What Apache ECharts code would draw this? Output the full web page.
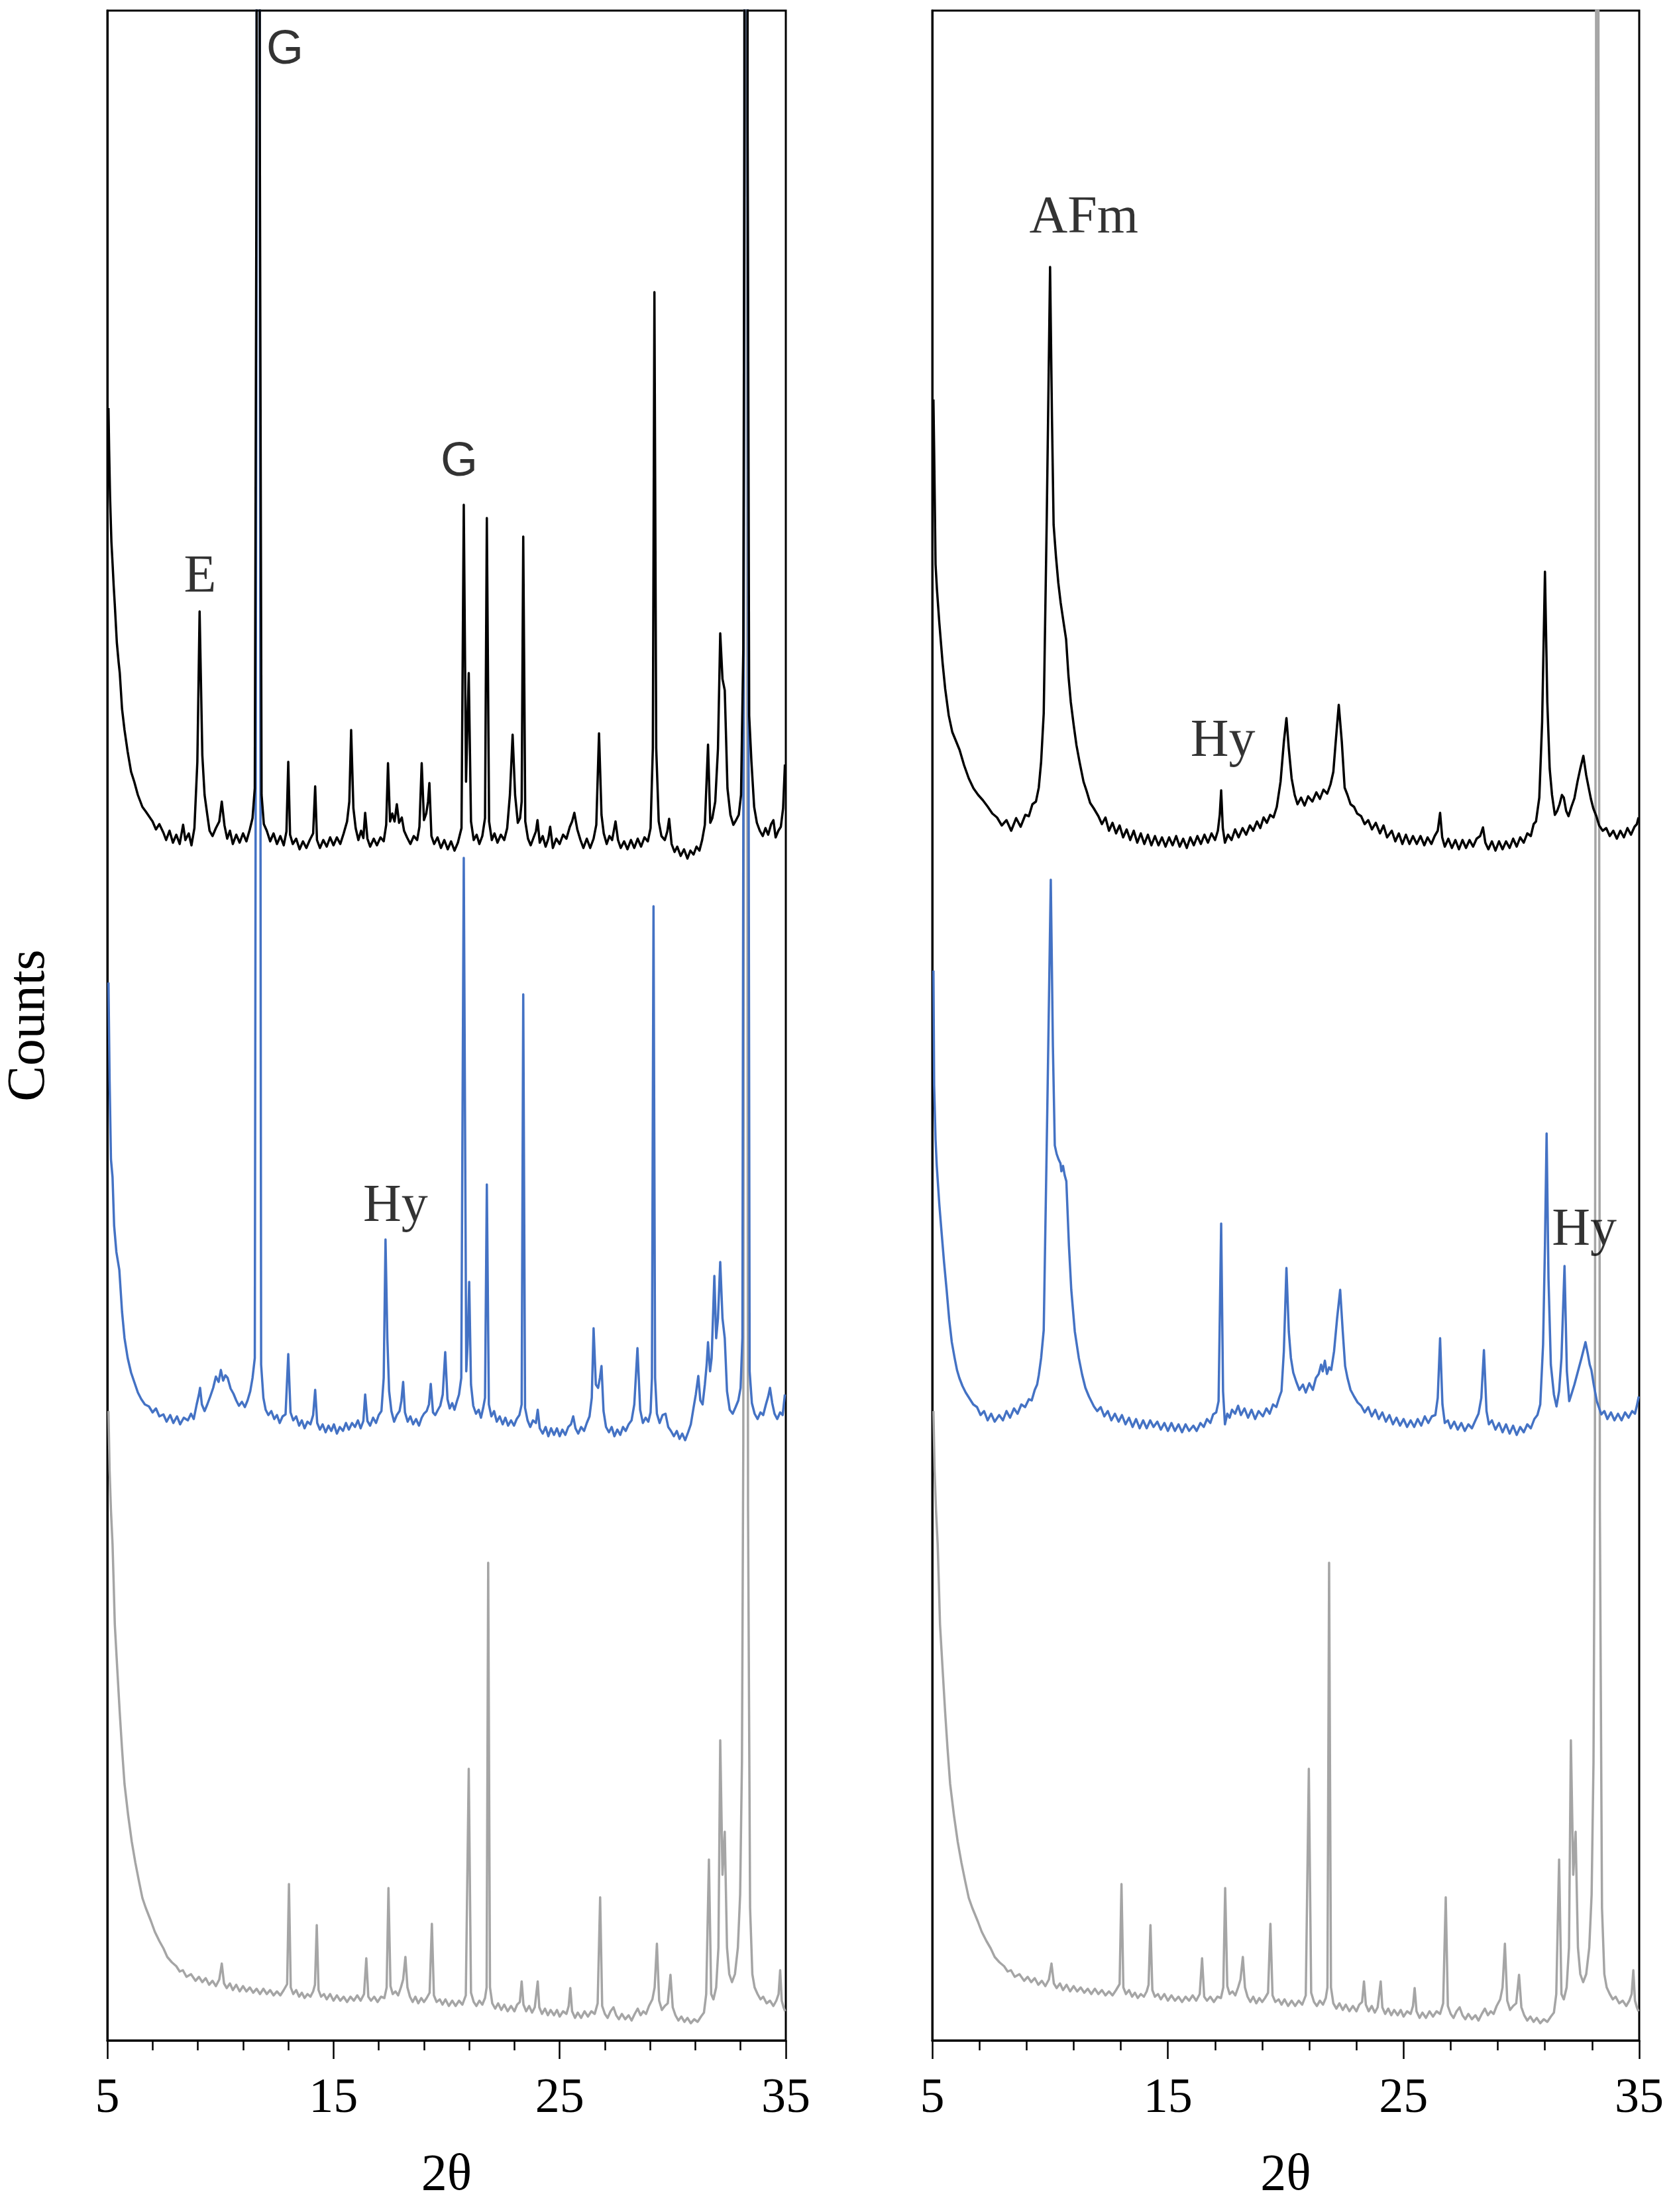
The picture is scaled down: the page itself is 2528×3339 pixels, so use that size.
<!DOCTYPE html>
<html>
<head>
<meta charset="utf-8">
<script src="https://cdn.jsdelivr.net/npm/echarts@6/dist/echarts.min.js"></script>
<style>
html,body{margin:0;padding:0;background:#fff;}
#chart{width:2528px;height:3339px;}
</style>
</head>
<body>
<div id="chart"></div>
<script>
// ---- Data (2θ, counts with vertical offsets as plotted) ----
const grayPattern = [
[5.05,950],[5.1,860],[5.16,800],[5.23,749],[5.28,690],[5.33,628],[5.44,560],[5.55,494],[5.65,440],[5.76,387],[5.92,340],[6.08,300],[6.24,268],[6.4,240],[6.55,215],[6.7,200],[6.93,180],[7.1,164],[7.3,150],[7.48,139],[7.65,126],[7.85,118],[8.05,112],[8.2,104],[8.34,106],[8.5,96],[8.7,100],[8.9,90],[9.05,96],[9.2,88],[9.35,94],[9.5,84],[9.65,90],[9.8,82],[9.95,92],[10.06,116],[10.16,86],[10.28,79],[10.42,86],[10.55,76],[10.7,84],[10.85,74],[11.0,82],[11.15,74],[11.3,80],[11.45,72],[11.6,78],[11.75,70],[11.9,78],[12.05,70],[12.2,76],[12.35,68],[12.5,74],[12.65,68],[12.8,76],[12.95,85],[13.03,236],[13.11,80],[13.22,70],[13.35,76],[13.48,66],[13.6,72],[13.72,64],[13.85,70],[13.98,66],[14.1,74],[14.18,84],[14.26,174],[14.34,76],[14.45,66],[14.58,70],[14.7,62],[14.85,70],[15.0,60],[15.15,68],[15.3,60],[15.45,66],[15.6,58],[15.75,66],[15.9,60],[16.05,68],[16.2,60],[16.35,70],[16.45,124],[16.54,66],[16.66,60],[16.8,66],[16.95,58],[17.1,66],[17.25,64],[17.35,80],[17.43,230],[17.52,82],[17.62,70],[17.74,74],[17.86,68],[17.98,80],[18.08,92],[18.18,126],[18.27,80],[18.38,66],[18.5,58],[18.62,66],[18.75,56],[18.88,64],[19.0,58],[19.12,64],[19.25,72],[19.35,176],[19.44,68],[19.56,58],[19.7,62],[19.82,54],[19.95,62],[20.1,52],[20.25,60],[20.4,52],[20.55,60],[20.7,54],[20.85,68],[20.98,410],[21.08,72],[21.2,58],[21.32,52],[21.45,60],[21.58,54],[21.7,64],[21.77,80],[21.84,721],[21.92,80],[22.02,56],[22.15,48],[22.28,56],[22.42,46],[22.55,54],[22.7,44],[22.85,52],[23.0,44],[23.12,54],[23.24,58],[23.32,89],[23.4,54],[23.52,44],[23.65,52],[23.78,42],[23.9,50],[24.03,89],[24.1,50],[24.22,40],[24.35,48],[24.48,38],[24.6,46],[24.75,38],[24.88,46],[25.0,36],[25.15,44],[25.3,40],[25.4,52],[25.47,79],[25.55,44],[25.68,34],[25.8,42],[25.95,34],[26.1,44],[26.25,36],[26.4,44],[26.55,40],[26.68,56],[26.79,216],[26.88,52],[27.0,40],[27.12,34],[27.25,44],[27.38,50],[27.5,38],[27.62,32],[27.75,40],[27.9,32],[28.05,38],[28.18,30],[28.32,40],[28.45,48],[28.58,38],[28.7,44],[28.82,40],[28.95,52],[29.1,62],[29.2,80],[29.3,146],[29.4,60],[29.52,46],[29.65,52],[29.78,56],[29.9,99],[30.0,50],[30.12,38],[30.25,30],[30.38,36],[30.52,28],[30.65,34],[30.8,26],[30.95,32],[31.1,28],[31.25,36],[31.38,42],[31.48,70],[31.6,273],[31.7,70],[31.8,62],[31.92,80],[32.02,140],[32.1,453],[32.2,250],[32.3,315],[32.4,140],[32.5,100],[32.62,88],[32.75,100],[32.88,140],[32.98,220],[33.06,420],[33.12,900],[33.17,3000],[33.22,12000],[33.27,3000],[33.33,800],[33.42,200],[33.52,100],[33.62,80],[33.75,70],[33.88,62],[34.0,66],[34.15,56],[34.3,60],[34.45,52],[34.58,60],[34.68,70],[34.75,106],[34.82,60],[34.9,50],[34.97,44]
];

const blackLeft = [
[5.05,2464],[5.08,2400],[5.12,2330],[5.18,2262],[5.23,2230],[5.28,2196],[5.33,2167],[5.42,2110],[5.5,2080],[5.55,2064],[5.65,2010],[5.76,1978],[5.9,1945],[6.05,1915],[6.19,1900],[6.35,1880],[6.55,1862],[6.7,1855],[6.84,1848],[7.0,1840],[7.15,1828],[7.3,1836],[7.48,1823],[7.6,1812],[7.75,1826],[7.9,1808],[8.05,1820],[8.2,1806],[8.35,1835],[8.45,1812],[8.6,1822],[8.72,1804],[8.85,1830],[8.98,1930],[9.08,2157],[9.2,1940],[9.3,1880],[9.42,1850],[9.52,1826],[9.65,1818],[9.8,1830],[9.95,1840],[10.06,1870],[10.18,1834],[10.3,1814],[10.42,1826],[10.55,1806],[10.7,1820],[10.85,1808],[11.0,1822],[11.15,1810],[11.3,1828],[11.42,1845],[11.52,1890],[11.6,2900],[11.67,9000],[11.74,2900],[11.82,1880],[11.92,1836],[12.05,1826],[12.2,1810],[12.35,1822],[12.5,1806],[12.65,1818],[12.8,1804],[12.92,1825],[13.0,1930],[13.08,1820],[13.2,1806],[13.35,1814],[13.5,1798],[13.65,1810],[13.8,1800],[13.95,1812],[14.1,1822],[14.19,1893],[14.27,1812],[14.4,1800],[14.55,1812],[14.7,1802],[14.85,1816],[15.0,1804],[15.15,1816],[15.3,1806],[15.45,1822],[15.6,1840],[15.7,1870],[15.78,1978],[15.88,1860],[15.98,1830],[16.1,1812],[16.22,1826],[16.32,1815],[16.4,1853],[16.5,1814],[16.62,1802],[16.78,1814],[16.92,1804],[17.08,1816],[17.22,1810],[17.33,1835],[17.41,1928],[17.5,1840],[17.6,1852],[17.7,1840],[17.8,1866],[17.9,1838],[18.02,1846],[18.12,1826],[18.25,1816],[18.4,1806],[18.55,1818],[18.7,1812],[18.8,1832],[18.9,1928],[19.0,1842],[19.1,1852],[19.18,1870],[19.24,1898],[19.33,1818],[19.45,1806],[19.6,1816],[19.75,1800],[19.9,1812],[20.05,1798],[20.2,1810],[20.35,1796],[20.5,1808],[20.66,1830],[20.76,2318],[20.86,1900],[20.98,2064],[21.08,1840],[21.2,1812],[21.33,1820],[21.45,1806],[21.58,1818],[21.7,1845],[21.78,2298],[21.88,1840],[22.0,1812],[22.12,1822],[22.25,1808],[22.4,1820],[22.55,1812],[22.68,1830],[22.8,1880],[22.92,1971],[23.03,1880],[23.15,1838],[23.25,1845],[23.32,1870],[23.39,2270],[23.48,1840],[23.6,1814],[23.72,1804],[23.85,1816],[23.95,1825],[24.02,1842],[24.12,1808],[24.25,1818],[24.38,1802],[24.5,1814],[24.58,1832],[24.7,1800],[24.85,1814],[25.0,1806],[25.15,1820],[25.3,1814],[25.45,1832],[25.55,1840],[25.65,1853],[25.78,1828],[25.92,1812],[26.05,1800],[26.2,1814],[26.35,1800],[26.5,1814],[26.62,1835],[26.74,1973],[26.85,1850],[26.95,1822],[27.08,1806],[27.2,1818],[27.32,1812],[27.47,1840],[27.58,1812],[27.7,1800],[27.85,1810],[28.0,1798],[28.15,1812],[28.3,1800],[28.45,1814],[28.6,1802],[28.75,1816],[28.9,1810],[29.02,1830],[29.12,1950],[29.19,2639],[29.27,1950],[29.38,1840],[29.5,1818],[29.65,1812],[29.76,1825],[29.84,1844],[29.95,1806],[30.08,1794],[30.2,1802],[30.35,1788],[30.5,1798],[30.65,1784],[30.78,1796],[30.92,1790],[31.05,1802],[31.18,1796],[31.3,1812],[31.42,1835],[31.56,1956],[31.66,1838],[31.75,1845],[31.88,1870],[32.0,1950],[32.1,2124],[32.2,2055],[32.3,2038],[32.42,1890],[32.55,1850],[32.68,1835],[32.8,1842],[32.92,1850],[33.02,1880],[33.12,2100],[33.17,2900],[33.24,9000],[33.31,2900],[33.38,2000],[33.48,1930],[33.6,1862],[33.72,1838],[33.85,1826],[33.98,1818],[34.1,1830],[34.22,1820],[34.35,1836],[34.45,1842],[34.55,1816],[34.67,1826],[34.78,1832],[34.88,1860],[34.96,1926]
];

const blueLeft = [
[5.05,1597],[5.1,1450],[5.16,1330],[5.23,1303],[5.3,1230],[5.4,1190],[5.53,1163],[5.65,1100],[5.76,1060],[5.9,1030],[6.05,1008],[6.19,994],[6.35,978],[6.5,968],[6.66,960],[6.84,957],[7.0,948],[7.15,954],[7.3,942],[7.48,945],[7.62,934],[7.78,944],[7.92,932],[8.08,942],[8.22,930],[8.38,940],[8.56,936],[8.7,946],[8.82,938],[8.95,960],[9.05,975],[9.1,985],[9.18,960],[9.3,950],[9.42,960],[9.55,972],[9.68,985],[9.8,1002],[9.92,994],[10.02,1012],[10.12,996],[10.22,1004],[10.32,1000],[10.45,984],[10.58,976],[10.7,966],[10.82,958],[10.95,964],[11.08,956],[11.2,966],[11.32,980],[11.42,1000],[11.52,1030],[11.6,2800],[11.67,9000],[11.74,2800],[11.8,1020],[11.9,970],[12.0,952],[12.12,944],[12.25,950],[12.38,938],[12.5,944],[12.62,932],[12.75,942],[12.88,945],[13.0,1036],[13.1,948],[13.22,936],[13.35,942],[13.48,928],[13.6,936],[13.72,924],[13.85,934],[13.98,930],[14.1,944],[14.19,982],[14.28,932],[14.4,922],[14.52,930],[14.65,918],[14.78,928],[14.9,920],[15.02,930],[15.15,916],[15.28,926],[15.42,920],[15.55,932],[15.68,922],[15.82,932],[15.95,926],[16.08,936],[16.2,924],[16.32,935],[16.4,975],[16.5,935],[16.62,928],[16.75,940],[16.88,932],[17.0,944],[17.12,950],[17.22,1000],[17.3,1209],[17.38,1060],[17.46,980],[17.56,950],[17.68,934],[17.8,944],[17.92,950],[18.0,965],[18.08,994],[18.16,948],[18.28,934],[18.4,942],[18.52,930],[18.65,938],[18.78,928],[18.9,940],[19.0,946],[19.12,950],[19.22,960],[19.3,991],[19.4,948],[19.5,944],[19.62,952],[19.72,958],[19.83,975],[19.94,1039],[20.04,968],[20.14,954],[20.25,962],[20.35,952],[20.45,964],[20.55,975],[20.65,1000],[20.76,1785],[20.87,1010],[20.93,1050],[21.0,1145],[21.08,990],[21.18,958],[21.3,946],[21.42,952],[21.52,940],[21.62,955],[21.7,970],[21.78,1292],[21.87,960],[21.98,942],[22.1,950],[22.22,934],[22.35,942],[22.48,930],[22.6,940],[22.72,928],[22.85,936],[22.98,928],[23.1,938],[23.22,944],[23.32,960],[23.39,1579],[23.47,955],[23.58,936],[23.7,926],[23.82,936],[23.95,932],[24.03,952],[24.12,924],[24.25,916],[24.38,926],[24.5,912],[24.62,924],[24.75,914],[24.88,924],[25.0,912],[25.12,922],[25.25,914],[25.38,926],[25.5,930],[25.6,942],[25.7,924],[25.82,916],[25.95,926],[26.08,920],[26.2,932],[26.32,942],[26.42,970],[26.5,1075],[26.6,990],[26.7,985],[26.78,1000],[26.85,1018],[26.94,950],[27.05,926],[27.18,918],[27.3,926],[27.42,912],[27.55,922],[27.68,914],[27.8,926],[27.92,920],[28.05,930],[28.18,936],[28.3,960],[28.44,1045],[28.56,952],[28.68,932],[28.8,940],[28.92,934],[29.02,948],[29.08,1000],[29.15,1712],[29.22,1000],[29.3,946],[29.42,932],[29.55,944],[29.68,946],[29.8,926],[29.92,920],[30.05,912],[30.18,920],[30.3,908],[30.42,916],[30.55,906],[30.68,918],[30.8,930],[30.92,955],[31.02,975],[31.13,1003],[31.22,966],[31.32,960],[31.42,990],[31.5,1020],[31.56,1054],[31.65,1010],[31.72,1030],[31.84,1154],[31.92,1060],[32.0,1090],[32.1,1175],[32.2,1090],[32.3,1060],[32.4,980],[32.52,952],[32.65,946],[32.78,956],[32.9,966],[33.0,985],[33.08,1060],[33.17,2800],[33.24,9000],[33.31,2800],[33.4,1010],[33.5,962],[33.62,946],[33.75,938],[33.88,948],[34.0,944],[34.12,960],[34.22,972],[34.3,985],[34.4,962],[34.5,946],[34.62,938],[34.75,948],[34.86,944],[34.96,975]
];

const blackRight = [
[5.05,2477],[5.08,2400],[5.14,2228],[5.2,2190],[5.3,2140],[5.44,2079],[5.55,2040],[5.7,2000],[5.85,1975],[6.0,1962],[6.16,1948],[6.35,1925],[6.55,1905],[6.75,1890],[6.95,1880],[7.15,1872],[7.36,1862],[7.55,1852],[7.75,1846],[7.95,1834],[8.15,1842],[8.35,1826],[8.56,1845],[8.75,1832],[8.95,1850],[9.1,1848],[9.25,1866],[9.4,1870],[9.52,1891],[9.62,1930],[9.73,2003],[9.86,2300],[10.0,2677],[10.08,2450],[10.15,2288],[10.25,2240],[10.35,2200],[10.45,2170],[10.57,2141],[10.68,2115],[10.78,2060],[10.88,2020],[11.0,1986],[11.12,1955],[11.25,1930],[11.42,1900],[11.55,1886],[11.7,1868],[11.85,1860],[12.05,1848],[12.2,1836],[12.35,1846],[12.5,1826],[12.65,1838],[12.8,1822],[12.95,1834],[13.1,1816],[13.25,1828],[13.4,1812],[13.55,1826],[13.7,1808],[13.85,1822],[14.0,1806],[14.15,1820],[14.3,1804],[14.45,1818],[14.6,1804],[14.75,1816],[14.9,1802],[15.05,1816],[15.2,1804],[15.35,1818],[15.5,1802],[15.65,1814],[15.8,1800],[15.95,1816],[16.1,1804],[16.25,1818],[16.4,1806],[16.55,1820],[16.7,1808],[16.85,1822],[17.0,1812],[17.12,1826],[17.2,1850],[17.26,1887],[17.33,1830],[17.42,1808],[17.55,1820],[17.7,1812],[17.85,1828],[18.0,1816],[18.17,1830],[18.32,1820],[18.48,1834],[18.62,1826],[18.78,1840],[18.92,1830],[19.06,1846],[19.2,1838],[19.34,1850],[19.48,1846],[19.62,1862],[19.78,1900],[19.92,1960],[20.03,1996],[20.13,1950],[20.25,1905],[20.38,1880],[20.5,1866],[20.65,1876],[20.8,1864],[20.95,1878],[21.13,1870],[21.3,1884],[21.45,1874],[21.6,1888],[21.76,1882],[21.9,1896],[22.02,1915],[22.12,1960],[22.25,2016],[22.38,1960],[22.5,1891],[22.62,1880],[22.75,1866],[22.9,1862],[23.03,1852],[23.2,1848],[23.35,1836],[23.5,1842],[23.66,1828],[23.82,1838],[24.0,1822],[24.15,1834],[24.3,1816],[24.5,1826],[24.65,1810],[24.8,1822],[24.95,1806],[25.1,1820],[25.25,1806],[25.4,1818],[25.56,1806],[25.72,1818],[25.88,1804],[26.02,1816],[26.18,1806],[26.32,1818],[26.45,1826],[26.55,1853],[26.64,1816],[26.75,1802],[26.9,1814],[27.05,1800],[27.2,1812],[27.35,1798],[27.5,1812],[27.65,1800],[27.8,1812],[27.95,1802],[28.1,1814],[28.25,1818],[28.37,1831],[28.47,1808],[28.6,1798],[28.75,1810],[28.9,1796],[29.05,1810],[29.2,1798],[29.35,1810],[29.5,1800],[29.65,1814],[29.8,1802],[29.95,1816],[30.1,1808],[30.25,1822],[30.4,1818],[30.52,1836],[30.62,1840],[30.76,1876],[30.88,1990],[31.0,2217],[31.1,2020],[31.2,1920],[31.3,1880],[31.42,1850],[31.52,1856],[31.62,1866],[31.72,1880],[31.8,1876],[31.9,1856],[32.0,1848],[32.12,1862],[32.25,1875],[32.38,1900],[32.5,1920],[32.63,1939],[32.75,1910],[32.86,1890],[32.95,1874],[33.05,1860],[33.18,1848],[33.3,1834],[33.45,1826],[33.6,1830],[33.75,1818],[33.9,1826],[34.05,1814],[34.2,1826],[34.35,1816],[34.5,1830],[34.65,1820],[34.8,1832],[34.9,1836],[34.97,1846]
];

const blueRight = [
[5.05,1615],[5.08,1442],[5.14,1360],[5.19,1321],[5.3,1262],[5.4,1218],[5.5,1175],[5.61,1133],[5.72,1088],[5.83,1054],[5.95,1030],[6.05,1012],[6.15,1000],[6.28,988],[6.42,978],[6.58,969],[6.74,960],[6.9,956],[7.05,944],[7.2,950],[7.35,936],[7.5,946],[7.65,934],[7.84,944],[8.0,936],[8.15,950],[8.3,940],[8.47,954],[8.62,946],[8.78,960],[8.94,956],[9.1,968],[9.22,966],[9.35,982],[9.45,990],[9.52,1004],[9.62,1030],[9.73,1072],[9.88,1400],[10.03,1752],[10.12,1500],[10.2,1351],[10.28,1338],[10.36,1330],[10.44,1324],[10.48,1312],[10.55,1320],[10.62,1306],[10.69,1297],[10.8,1200],[10.9,1133],[11.05,1070],[11.22,1030],[11.36,1005],[11.5,985],[11.65,972],[11.86,957],[12.0,950],[12.15,956],[12.3,942],[12.45,950],[12.6,936],[12.75,946],[12.91,934],[13.05,944],[13.2,930],[13.35,940],[13.5,926],[13.65,938],[13.8,924],[13.95,936],[14.1,924],[14.25,936],[14.39,926],[14.55,934],[14.7,922],[14.85,932],[15.0,920],[15.15,932],[15.3,920],[15.45,930],[15.6,918],[15.75,930],[15.9,920],[16.08,928],[16.22,920],[16.38,932],[16.52,926],[16.66,938],[16.8,932],[16.92,945],[17.05,948],[17.15,965],[17.26,1233],[17.34,980],[17.42,930],[17.52,946],[17.62,940],[17.72,952],[17.85,946],[17.98,958],[18.1,944],[18.25,954],[18.4,940],[18.55,952],[18.7,938],[18.85,950],[19.03,942],[19.18,954],[19.32,946],[19.46,960],[19.6,956],[19.72,970],[19.82,980],[19.92,1040],[20.03,1166],[20.13,1070],[20.22,1030],[20.32,1008],[20.45,994],[20.58,982],[20.73,990],[20.85,978],[21.0,992],[21.15,982],[21.28,1000],[21.4,1006],[21.5,1020],[21.57,1010],[21.66,1026],[21.75,1006],[21.84,1016],[21.93,1012],[22.05,1040],[22.18,1090],[22.31,1133],[22.42,1070],[22.52,1018],[22.62,1000],[22.75,982],[22.9,972],[23.05,963],[23.2,958],[23.35,948],[23.5,956],[23.65,942],[23.8,952],[23.95,938],[24.1,948],[24.25,934],[24.4,944],[24.55,930],[24.7,940],[24.85,928],[25.0,938],[25.15,926],[25.3,936],[25.45,926],[25.6,938],[25.75,928],[25.9,942],[26.05,932],[26.2,942],[26.35,944],[26.45,970],[26.55,1060],[26.65,960],[26.75,932],[26.88,936],[27.0,924],[27.15,934],[27.3,922],[27.45,932],[27.6,920],[27.75,930],[27.9,924],[28.05,936],[28.18,946],[28.3,970],[28.41,1042],[28.52,950],[28.62,930],[28.75,936],[28.9,922],[29.05,932],[29.2,918],[29.35,930],[29.5,916],[29.65,928],[29.8,914],[29.95,926],[30.1,918],[30.25,930],[30.4,924],[30.55,938],[30.68,944],[30.8,960],[30.92,1050],[31.0,1200],[31.07,1369],[31.15,1150],[31.25,1020],[31.38,975],[31.49,957],[31.6,980],[31.7,1030],[31.83,1169],[31.93,1010],[32.03,965],[32.12,975],[32.25,990],[32.4,1010],[32.55,1030],[32.72,1054],[32.82,1036],[32.9,1020],[32.97,1012],[33.07,990],[33.2,965],[33.39,945],[33.52,950],[33.65,938],[33.8,948],[33.95,936],[34.1,946],[34.25,936],[34.4,948],[34.55,940],[34.7,950],[34.82,946],[34.9,958],[34.98,972]
];

const xTickLabels = [5, 15, 25, 35];

// peak annotations: [2θ, counts, text, fontKind]
const leftPeakLabels = [
  [12.85, 3004, 'G', 'sans'],
  [9.1, 2208, 'E', 'serif'],
  [20.56, 2382, 'G', 'sans'],
  [17.74, 1258, 'Hy', 'serif']
];
const rightPeakLabels = [
  [11.43, 2750, 'AFm', 'serif'],
  [17.33, 1960, 'Hy', 'serif'],
  [32.67, 1222, 'Hy', 'serif']
];

// ---- Chart ----
const COLORS = { black: '#000000', blue: '#4472C4', gray: '#A5A5A5' };
const SERIF = '"Liberation Serif", "Times New Roman", serif';
const SANS = '"Liberation Sans", Arial, sans-serif';
const YMAX = 3064;

const chart = echarts.init(document.getElementById('chart'), null, { renderer: 'canvas' });

function xAxisDef(gi) {
  return {
    type: 'value', gridIndex: gi, min: 5, max: 35, interval: 10,
    name: '2θ', nameLocation: 'middle', nameGap: 166,
    nameTextStyle: { fontFamily: SERIF, fontSize: 78, color: '#000' },
    axisLine: { show: true, onZero: false, lineStyle: { color: '#000', width: 3 } },
    axisTick: { show: true, inside: false, length: 28, lineStyle: { color: '#000', width: 2.5 } },
    minorTick: { show: true, splitNumber: 5, length: 15, lineStyle: { color: '#000', width: 2.5 } },
    axisLabel: {
      show: true, margin: 52, fontFamily: SERIF, fontSize: 74, color: '#000',
      showMinLabel: true, showMaxLabel: true,
      formatter: v => (xTickLabels.indexOf(Math.round(v)) >= 0 ? String(Math.round(v)) : '')
    },
    splitLine: { show: false }, minorSplitLine: { show: false }
  };
}
function yAxisDef(gi) {
  return {
    type: 'value', gridIndex: gi, min: 0, max: YMAX,
    axisLine: { show: true, lineStyle: { color: '#000', width: 3 } },
    axisTick: { show: false }, axisLabel: { show: false }, splitLine: { show: false }
  };
}
function lineSeries(name, data, color, gi, z) {
  return {
    type: 'line', name, data, xAxisIndex: gi, yAxisIndex: gi,
    symbol: 'none', showSymbol: false, clip: true, z,
    lineStyle: { color, width: 3.5, join: 'round' },
    emphasis: { disabled: true }, animation: false
  };
}
function labelSeries(list, gi) {
  return {
    type: 'scatter', xAxisIndex: gi, yAxisIndex: gi, z: 10, animation: false,
    symbol: 'circle', symbolSize: 1, itemStyle: { color: 'rgba(0,0,0,0)' },
    data: list.map(p => ({
      value: [p[0], p[1]],
      label: {
        show: true, position: 'inside', formatter: p[2], color: '#000',
        fontFamily: p[3] === 'sans' ? SANS : SERIF,
        fontSize: p[3] === 'sans' ? 72 : 80
      }
    })),
    emphasis: { disabled: true }
  };
}

chart.setOption({
  backgroundColor: '#ffffff',
  animation: false,
  grid: [
    { left: 162, top: 16, width: 1024, height: 3064, show: true, borderColor: '#000', borderWidth: 3, backgroundColor: 'transparent' },
    { left: 1407, top: 16, width: 1067, height: 3064, show: true, borderColor: '#000', borderWidth: 3, backgroundColor: 'transparent' }
  ],
  xAxis: [xAxisDef(0), xAxisDef(1)],
  yAxis: [yAxisDef(0), yAxisDef(1)],
  graphic: [{
    type: 'text', x: 45, y: 1548, rotation: Math.PI / 2,
    style: { text: 'Counts', font: '81px ' + SERIF, fill: '#000', textAlign: 'center', textVerticalAlign: 'middle', verticalAlign: 'middle' }
  }],
  series: [
    lineSeries('gray-left', grayPattern, COLORS.gray, 0, 2),
    lineSeries('blue-left', blueLeft, COLORS.blue, 0, 3),
    lineSeries('black-left', blackLeft, COLORS.black, 0, 4),
    lineSeries('gray-right', grayPattern, COLORS.gray, 1, 2),
    lineSeries('blue-right', blueRight, COLORS.blue, 1, 3),
    lineSeries('black-right', blackRight, COLORS.black, 1, 4),
    labelSeries(leftPeakLabels, 0),
    labelSeries(rightPeakLabels, 1)
  ]
});
</script>
</body>
</html>
